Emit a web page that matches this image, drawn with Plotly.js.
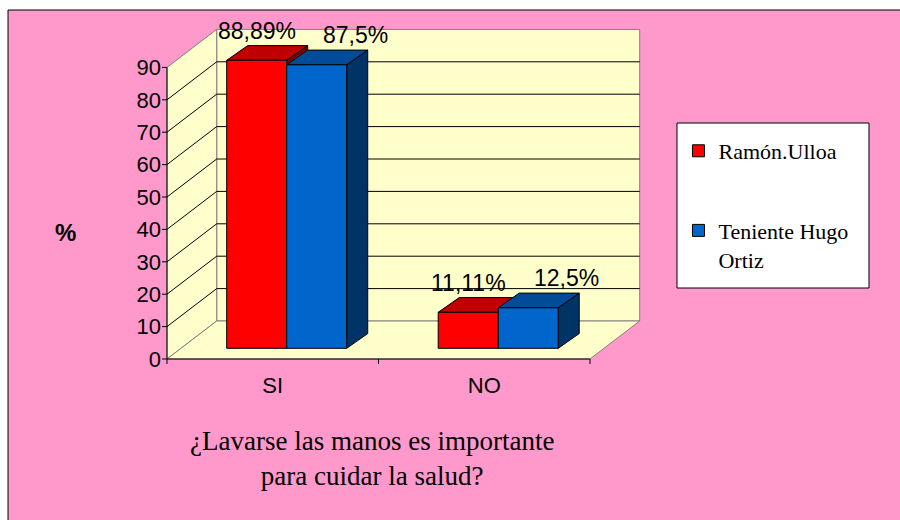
<!DOCTYPE html>
<html>
<head>
<meta charset="utf-8">
<script src="https://cdn.plot.ly/plotly-3.0.1.min.js"></script>
<style>html,body{margin:0;padding:0;background:#fff;}#chart{width:900px;height:520px;}</style>
</head>
<body>
<div id="chart"></div>
<script>
// ---- data ----
const categories = ['SI', 'NO'];
const seriesNames = ['Ramón.Ulloa', 'Teniente Hugo<br>Ortiz'];
const ramonUlloa = [88.89, 11.11];
const tenienteHugoOrtiz = [87.5, 12.5];
const yTickVals = [0, 10, 20, 30, 40, 50, 60, 70, 80, 90];
const axisMax = 90;
const xTitle = '¿Lavarse las manos es importante<br>para cuidar la salud?';
const yTitle = '%';

// ---- styling / 3D geometry (axis units) ----
const seriesFront = ['#FF0000', '#0066CC'];
const seriesTop = ['#C00000', '#004C99'];
const seriesSide = ['#800000', '#003366'];
const WALL = '#FFFFCC', EDGE = '#808080';
const wdx = 0.235, wdy = 11.73;       // wall/floor depth
const bsx = 0.066, bsy = 3.30;        // bar front-plane shift
const bdx = 0.0993, bdy = 4.54;       // bar depth
const bw = 0.2837;                    // bar width
const tickX = 5 / 211.5, tickY = 5 / 3.24;
const SANS = 'Liberation Sans, Arial, sans-serif';
const SERIF = 'Liberation Serif, Times New Roman, serif';

const L = -0.5, R = categories.length - 0.5;
const series = [ramonUlloa, tenienteHugoOrtiz];

function poly(x, y, fill, line) {
  return {type: 'scatter', mode: 'lines', x: x, y: y, fill: 'toself', fillcolor: fill,
    line: {color: line, width: 1}, hoverinfo: 'skip', showlegend: false};
}

const traces = [];
// back wall, side wall, floor
traces.push(poly([L + wdx, R + wdx, R + wdx, L + wdx, L + wdx], [wdy, wdy, axisMax + wdy, axisMax + wdy, wdy], WALL, EDGE));
traces.push(poly([L, L + wdx, L + wdx, L, L], [0, wdy, axisMax + wdy, axisMax, 0], WALL, EDGE));
traces.push(poly([L, R, R + wdx, L + wdx, L], [0, 0, wdy, wdy, 0], WALL, EDGE));

// gridlines
const gx = [], gy = [];
yTickVals.forEach(v => {
  if (v > 0 && v < axisMax) {
    gx.push(L, L + wdx, R + wdx, null);
    gy.push(v, v + wdy, v + wdy, null);
  }
});
traces.push({type: 'scatter', mode: 'lines', x: gx, y: gy, line: {color: '#000', width: 1},
  hoverinfo: 'skip', showlegend: false, connectgaps: false});

// axis lines + tick marks
const ax = [L, R, null], ay = [0, 0, null];
for (let k = 0; k <= categories.length; k++) { ax.push(L + k, L + k, null); ay.push(0, -tickY, null); }
ax.push(L, L, null); ay.push(0, axisMax, null);
yTickVals.forEach(v => { ax.push(L - tickX, L, null); ay.push(v, v, null); });
traces.push({type: 'scatter', mode: 'lines', x: ax, y: ay, line: {color: '#000', width: 1},
  hoverinfo: 'skip', showlegend: false, connectgaps: false});

// bar side & top faces (drawn beneath the front faces)
series.forEach((vals, s) => {
  const sx = [], sy = [], tx = [], ty = [];
  vals.forEach((v, i) => {
    const x0 = i + bsx - bw + s * bw, x1 = x0 + bw, yb = bsy, yt = bsy + v;
    sx.push(x1, x1, x1 + bdx, x1 + bdx, x1, null);
    sy.push(yb, yt, yt + bdy, yb + bdy, yb, null);
    tx.push(x0, x1, x1 + bdx, x0 + bdx, x0, null);
    ty.push(yt, yt, yt + bdy, yt + bdy, yt, null);
  });
  traces.push(poly(sx, sy, seriesSide[s], '#000'));
  traces.push(poly(tx, ty, seriesTop[s], '#000'));
});

// bar front faces (overlay subplot, above faces)
series.forEach((vals, s) => {
  traces.push({type: 'bar', name: seriesNames[s], legendgroup: 'g' + s,
    x: categories.map((c, i) => i), y: vals, base: bsy, width: bw, offset: bsx - bw + s * bw,
    yaxis: 'y2', marker: {color: seriesFront[s], line: {color: '#000', width: 1}},
    hoverinfo: 'skip'});
});

// data labels
const labelShift = [-10, 28];
const annotations = [];
series.forEach((vals, s) => {
  vals.forEach((v, i) => {
    const x0 = i + bsx - bw + s * bw;
    annotations.push({xref: 'x', yref: 'y', x: x0 + bw / 2 + bdx / 2, y: bsy + v + bdy,
      text: String(v).replace('.', ',') + '%', showarrow: false, xanchor: 'center', yanchor: 'bottom',
      xshift: labelShift[s], font: {family: SANS, size: 23, color: '#000'}});
  });
});
annotations.push({xref: 'paper', yref: 'paper', x: -0.2015, y: 0.3844, text: '<b>' + yTitle + '</b>',
  showarrow: false, xanchor: 'center', yanchor: 'middle', font: {family: SANS, size: 24, color: '#000'}});
annotations.push({xref: 'paper', yref: 'paper', x: 0.4375, y: -0.2659, text: xTitle,
  showarrow: false, xanchor: 'center', yanchor: 'middle', align: 'center',
  font: {family: SERIF, size: 27, color: '#000'}});

const yRange = [-2.16, 104.63];
const layout = {
  width: 900, height: 520,
  margin: {l: 162, r: 258, t: 20, b: 154},
  paper_bgcolor: '#FFFFFF', plot_bgcolor: 'rgba(0,0,0,0)',
  showlegend: true, barmode: 'overlay',
  xaxis: {range: [-0.5236, 1.7459], tickvals: categories.map((c, i) => i), ticktext: categories,
    ticks: '', ticklabelstandoff: 4, showgrid: false, zeroline: false, showline: false, fixedrange: true,
    tickfont: {family: SANS, size: 22, color: '#000'}},
  yaxis: {range: yRange, tickvals: yTickVals, ticks: '', showgrid: false, zeroline: false,
    showline: false, fixedrange: true, tickfont: {family: SANS, size: 22, color: '#000'}},
  yaxis2: {range: yRange, overlaying: 'y', anchor: 'x', visible: false, fixedrange: true},
  legend: {x: 1.076, y: 0.6821, xanchor: 'left', yanchor: 'top', bgcolor: 'rgba(0,0,0,0)',
    borderwidth: 0, tracegroupgap: 48, valign: 'top', traceorder: 'grouped',
    font: {family: SERIF, size: 22, color: '#000'}},
  shapes: [
    {type: 'rect', xref: 'paper', yref: 'paper', x0: -0.3208, x1: 1.548, y0: -0.4595, y1: 1.0289,
      fillcolor: '#FF99CC', line: {color: '#000', width: 1}, layer: 'below'},
    {type: 'rect', xref: 'paper', yref: 'paper', x0: 1.0729, x1: 1.4729, y0: 0.2254, y1: 0.7023,
      fillcolor: '#FFFFFF', line: {color: '#000', width: 1}, layer: 'below'}
  ],
  annotations: annotations
};

Plotly.newPlot('chart', traces, layout, {displayModeBar: false, staticPlot: true});
</script>
</body>
</html>
